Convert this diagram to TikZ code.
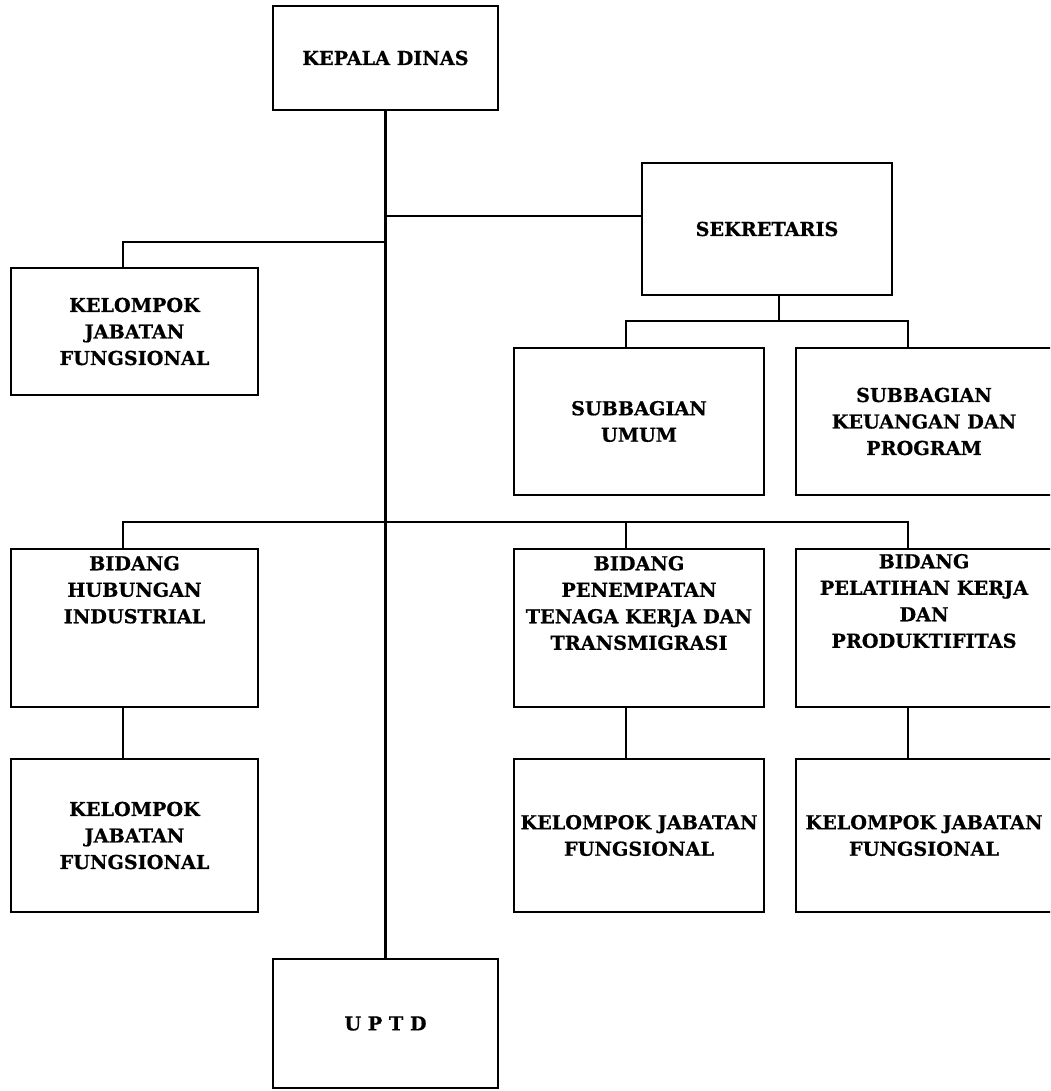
\documentclass[tikz,border=0pt]{standalone}
\usepackage{fontspec}
\setmainfont{DejaVu Serif}[BoldFeatures={FakeBold=0.6}]
\begin{document}
\begin{tikzpicture}[x=1pt,y=-1pt,
  box/.style={draw=black, line width=2.6pt, inner sep=0pt, align=center, fill=white},
  ln/.style={draw=black, line width=2.6pt},
  every node/.style={font=\bfseries\fontsize{19.2}{26.5}\selectfont}]
\useasboundingbox (0,0) rectangle (1050,1091);
\clip (0,0) rectangle (1050,1091);
% nodes
\node[box, minimum width=225pt, minimum height=104pt] (kd) at (385.5,58) {KEPALA DINAS};
\node[box, minimum width=250pt, minimum height=132pt] (sek) at (767,229) {SEKRETARIS};
\node[box, minimum width=247pt, minimum height=127pt] (kjfa) at (134.5,331.5) {KELOMPOK\\JABATAN\\FUNGSIONAL};
\node[box, minimum width=250pt, minimum height=147pt] (suba) at (639,421.5) {SUBBAGIAN\\UMUM};
\node[box, minimum width=256pt, minimum height=147pt] (subb) at (924,421.5) {SUBBAGIAN\\KEUANGAN DAN\\PROGRAM};
\node[box, minimum width=247pt, minimum height=158pt] (bida) at (134.5,628) {\parbox[c][158pt][t]{247pt}{\centering\vspace*{7pt}BIDANG\\HUBUNGAN\\INDUSTRIAL}};
\node[box, minimum width=250pt, minimum height=158pt] (bidb) at (639,628) {\parbox[c][158pt][t]{250pt}{\centering\vspace*{7pt}BIDANG\\PENEMPATAN\\TENAGA KERJA DAN\\TRANSMIGRASI}};
\node[box, minimum width=256pt, minimum height=158pt] (bidc) at (924,628) {\parbox[c][158pt][t]{256pt}{\centering\vspace*{5pt}BIDANG\\PELATIHAN KERJA\\DAN\\PRODUKTIFITAS}};
\node[box, minimum width=247pt, minimum height=153pt] (kjfb) at (134.5,835.5) {KELOMPOK\\JABATAN\\FUNGSIONAL};
\node[box, minimum width=250pt, minimum height=153pt] (kjfc) at (639,835.5) {KELOMPOK JABATAN\\FUNGSIONAL};
\node[box, minimum width=256pt, minimum height=153pt] (kjfd) at (924,835.5) {KELOMPOK JABATAN\\FUNGSIONAL};
\node[box, minimum width=225pt, minimum height=129pt] (uptd) at (385.5,1023.5) {U P T D};
% junctions
\coordinate (jS) at (385.5,216);
\coordinate (jK) at (385.5,242);
\coordinate (jSub) at (779,321);
\coordinate (jB) at (385.5,522);
% connectors
\draw[ln] (kd.south) -- (uptd.north);
\draw[ln] (jS) -- (jS -| sek.west);
\draw[ln] (jK) -| ([xshift=-11.5pt]kjfa.north);
\draw[ln] ([xshift=12pt]sek.south) -- (jSub);
\draw[ln] ([xshift=-13pt]suba.north) |- ([xshift=-16pt]subb.north |- jSub) -- ([xshift=-16pt]subb.north);
\draw[ln] ([xshift=-11.5pt]bida.north) |- ([xshift=-16pt]bidc.north |- jB) -- ([xshift=-16pt]bidc.north);
\draw[ln] ([xshift=-13pt]bidb.north) -- ([xshift=-13pt]bidb.north |- jB);
\draw[ln] ([xshift=-11.5pt]bida.south) -- ([xshift=-11.5pt]kjfb.north);
\draw[ln] ([xshift=-13pt]bidb.south) -- ([xshift=-13pt]kjfc.north);
\draw[ln] ([xshift=-16pt]bidc.south) -- ([xshift=-16pt]kjfd.north);
\end{tikzpicture}
\end{document}
